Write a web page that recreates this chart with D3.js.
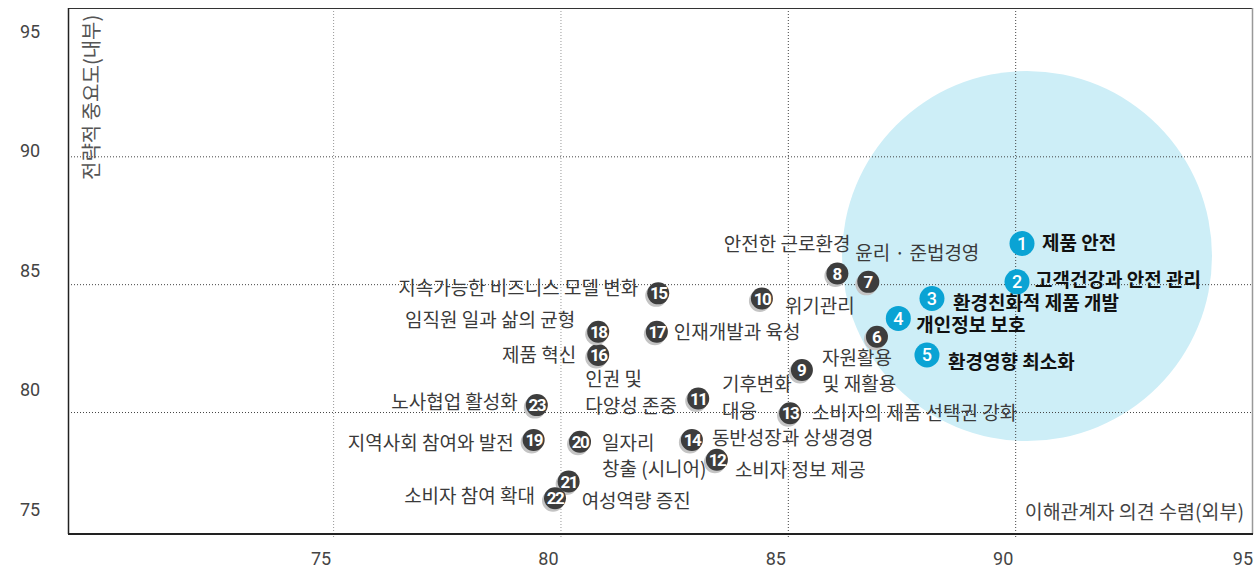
<!DOCTYPE html>
<html>
<head>
<meta charset="utf-8">
<script src="https://cdn.jsdelivr.net/npm/d3@7"></script>
<style>
  body { margin: 0; background: #fff; }
  svg { display: block; }
</style>
</head>
<body>
<div id="chart"></div>
<script>

// issue numbers, names (\n = line break), outside view (x) and inside importance (y)
var ids = [1, 2, 3, 4, 5, 6, 7, 8, 9, 10, 11, 12, 13, 14, 15, 16, 17, 18, 19, 20, 21, 22, 23]
var names = [
  "제품 안전", "고객건강과 안전 관리", "환경친화적 제품 개발", "개인정보 보호", "환경영향 최소화",
  "자원활용\n및 재활용", "윤리 · 준법경영", "안전한 근로환경", "기후변화\n대응", "위기관리",
  "인권 및\n다양성 존중", "소비자 정보 제공", "소비자의 제품 선택권 강화", "동반성장과 상생경영",
  "지속가능한 비즈니스 모델 변화", "제품 혁신", "인재개발과 육성", "임직원 일과 삶의 균형",
  "지역사회 참여와 발전", "일자리\n창출 (시니어)", "여성역량 증진", "소비자 참여 확대", "노사협업 활성화"
]
var external = [90.15, 90.04, 88.17, 87.43, 88.06, 86.96, 86.77, 86.09, 85.31, 84.43, 83.03, 83.44,
  85.05, 82.89, 82.15, 80.83, 82.12, 80.83, 79.41, 80.43, 80.18, 79.88, 79.48]
var internal = [86.59, 85.09, 84.44, 83.66, 82.23, 82.94, 85.09, 85.42, 81.64, 84.44, 80.53, 78.13,
  79.95, 78.91, 84.64, 82.23, 83.14, 83.14, 78.91, 78.84, 77.28, 76.63, 80.27]
var topCount = 5

var xTicks = [75, 80, 85, 90, 95]
var yTicks = [75, 80, 85, 90, 95]
var xGrid = [75, 80, 85, 90]
var yGrid = [80, 85, 90]
var focus = {x: 90.26, y: 86.1}

var xTitle = "이해관계자 의견 수렴(외부)"
var yTitle = "전략적 중요도(내부)"

// label placement next to each dot: dx, dy, anchor
var labelPos = {
  1: [20, 0, "start"], 2: [18, -2, "start"], 3: [21, 5, "start"], 4: [18, 7, "start"],
  5: [21, 7, "start"], 6: [-55, 21, "start"], 7: [-13, -29, "start"], 8: [13, -29, "end"],
  9: [-80, 14.5, "start"], 10: [23, 8, "start"], 11: [-113, -19, "start"], 12: [18, 10, "start"],
  13: [22, 0, "start"], 14: [20, -2, "start"], 15: [-20, -5, "end"], 16: [-22, 0, "end"],
  17: [17, 0, "start"], 18: [-23, -12, "end"], 19: [-20, 3, "end"], 20: [22, 1, "start"],
  21: [13, 20, "start"], 22: [-20, -2, "end"], 23: [-19, -3, "end"]
}

var width = 1255, height = 572
var mLeft = 68, mRight = 1253, mTop = 8, mBottom = 534

var data = ids.map(function (id, i) {
  return {id: id, name: names[i], x: external[i], y: internal[i], main: i < topCount}
})

var x = d3.scaleLinear().domain([69.17, 95.23]).range([mLeft, mRight])
var y = d3.scaleLinear().domain([75.23, 95.8]).range([mBottom, mTop])
// tick labels in the original sit a bit off the grid
var yLab = d3.scaleLinear().domain([75, 95]).range([509.5, 31.5])

var kr = "'Noto Sans CJK KR', 'Noto Sans', sans-serif"
var num = "Roboto, 'DejaVu Sans', sans-serif"

var svg = d3.select("#chart").append("svg")
    .attr("width", width)
    .attr("height", height)

// big highlight circle
svg.append("circle")
    .attr("cx", x(focus.x))
    .attr("cy", y(focus.y))
    .attr("r", 185)
    .attr("fill", "#cdeef7")

// grid
svg.append("g")
  .selectAll("line")
  .data(xGrid)
  .join("line")
    .attr("x1", d => x(d) + 0.5)
    .attr("x2", d => x(d) + 0.5)
    .attr("y1", mTop)
    .attr("y2", mBottom + 4)
    .attr("stroke", d => d < 85 ? "#999" : "#444")
    .attr("stroke-width", 1)
    .style("stroke-dasharray", "1, 2")

svg.append("g")
  .selectAll("line")
  .data(yGrid)
  .join("line")
    .attr("x1", mLeft)
    .attr("x2", mRight)
    .attr("y1", d => y(d) + 0.5)
    .attr("y2", d => y(d) + 0.5)
    .attr("stroke", "#444")
    .attr("stroke-width", 1)
    .style("stroke-dasharray", "1, 2")

// frame
svg.append("line").attr("x1", mLeft).attr("x2", mRight).attr("y1", mTop + 0.5).attr("y2", mTop + 0.5)
    .attr("stroke", "#333").attr("stroke-width", 1)
svg.append("line").attr("x1", mRight - 0.5).attr("x2", mRight - 0.5).attr("y1", mTop).attr("y2", mBottom)
    .attr("stroke", "#999").attr("stroke-width", 1.5)
svg.append("line").attr("x1", mLeft + 0.5).attr("x2", mLeft + 0.5).attr("y1", mTop).attr("y2", mBottom)
    .attr("stroke", "#222").attr("stroke-width", 1.5)
svg.append("line").attr("x1", mLeft).attr("x2", mRight).attr("y1", mBottom).attr("y2", mBottom)
    .attr("stroke", "#222").attr("stroke-width", 2)

// tick labels
svg.append("g")
  .selectAll("text")
  .data(xTicks)
  .join("text")
    .attr("x", (d, i) => i == xTicks.length - 1 ? mRight : x(d) - 12)
    .attr("y", 565)
    .attr("text-anchor", (d, i) => i == xTicks.length - 1 ? "end" : "middle")
    .attr("font-family", num)
    .attr("font-size", 18)
    .attr("fill", "#444")
    .text(d => d)

svg.append("g")
  .selectAll("text")
  .data(yTicks)
  .join("text")
    .attr("x", 30)
    .attr("y", d => yLab(d))
    .attr("dy", "0.35em")
    .attr("text-anchor", "middle")
    .attr("font-family", num)
    .attr("font-size", 18)
    .attr("fill", "#444")
    .text(d => d)

// axis titles
svg.append("text")
    .attr("transform", "translate(99,180) rotate(-90)")
    .attr("font-family", kr)
    .attr("font-size", 20)
    .attr("fill", "#555")
    .text(yTitle)

svg.append("text")
    .attr("x", 1244)
    .attr("y", 511.5)
    .attr("dy", "0.36em")
    .attr("text-anchor", "end")
    .attr("font-family", kr)
    .attr("font-size", 19.5)
    .attr("fill", "#444")
    .text(xTitle)

// labels
var labels = svg.append("g")
  .selectAll("text")
  .data(data)
  .join("text")
    .attr("x", d => x(d.x) + labelPos[d.id][0])
    .attr("y", d => y(d.y) + labelPos[d.id][1])
    .attr("text-anchor", d => labelPos[d.id][2])
    .attr("font-family", kr)
    .attr("font-size", 19)
    .attr("font-weight", d => d.main ? 700 : 400)
    .attr("fill", d => d.main ? "#111" : "#3a3a3a")

labels.each(function (d) {
  var lines = d.name.split("\n")
  var t = d3.select(this)
  lines.forEach(function (line, j) {
    t.append("tspan")
      .attr("x", x(d.x) + labelPos[d.id][0])
      .attr("dy", j == 0 ? "0.36em" : 26.5)
      .text(line)
  })
})

// dots
var dots = svg.append("g")
  .selectAll("g")
  .data(data)
  .join("g")
    .attr("transform", d => "translate(" + x(d.x) + "," + y(d.y) + ")")

dots.filter(d => !d.main)
  .append("circle")
    .attr("cx", -2)
    .attr("cy", 2.5)
    .attr("r", 11)
    .attr("fill", "#c4c4c4")

dots.append("circle")
    .attr("r", d => d.main ? 12.5 : 11)
    .attr("fill", d => d.main ? "#0aa3d4" : "#3d3d3d")

dots.append("text")
    .attr("text-anchor", "middle")
    .attr("dy", "0.36em")
    .attr("font-family", num)
    .attr("font-size", d => d.main ? 18 : 17)
    .attr("font-weight", d => d.main ? 500 : 700)
    .attr("letter-spacing", d => d.id > 9 ? -1.5 : 0)
    .attr("fill", "#fff")
    .text(d => d.id)

</script>
</body>
</html>
